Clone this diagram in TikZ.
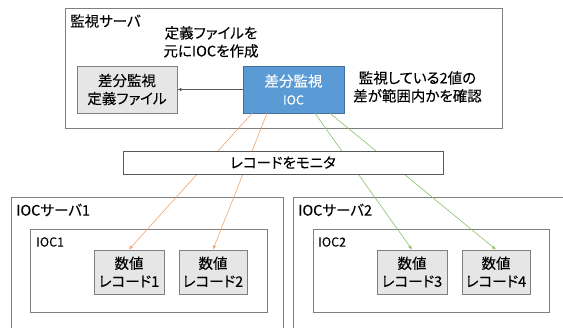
\documentclass[tikz,border=0pt]{standalone}
\usepackage{fontspec}
\setmainfont{Noto Sans CJK JP}[RawFeature=+palt, FakeBold=0.12]
\usetikzlibrary{arrows.meta,calc}
\definecolor{bordergray}{HTML}{7F7F7F}
\definecolor{darkborder}{HTML}{595959}
\definecolor{boxgray}{HTML}{E7E6E6}
\definecolor{iocblue}{HTML}{5B9BD5}
\definecolor{iocblueborder}{HTML}{41719C}
\definecolor{linkorange}{HTML}{F4A56B}
\definecolor{linkgreen}{HTML}{8CC068}
\begin{document}
\begin{tikzpicture}[x=1pt,y=-1pt,
  txt/.style={font=\fontsize{14.5}{18}\selectfont, inner sep=0pt},
  frame/.style={draw=bordergray, line width=0.8pt, fill=white},
  graybox/.style={draw=bordergray, line width=0.8pt, fill=boxgray, align=center,
     font=\fontsize{14.5}{18}\selectfont, inner sep=0pt},
  bluebox/.style={draw=iocblueborder, line width=0.6pt, fill=iocblue, text=white, align=center,
     font=\fontsize{14.5}{18}\selectfont, inner sep=0pt, minimum width=101pt, minimum height=47pt},
  recbox/.style={graybox, minimum height=44pt},
  olink/.style={draw=linkorange, line width=0.6pt, -{Latex[length=4pt,width=3.5pt]}},
  glink/.style={draw=linkgreen, line width=0.6pt, -{Latex[length=4pt,width=3.5pt]}},
]
\useasboundingbox (0,0) rectangle (563,328);
\clip (0,0) rectangle (563,328);
\fill[white] (0,0) rectangle (563,328);

% monitoring server
\draw[frame] (65,8) rectangle (502,128);
\node[txt, anchor=west] (srvlbl) at (70,21) {監視サーバ};
\node[txt, align=center, anchor=north] (note1) at (211,26) {定義ファイルを\\元にIOCを作成};
\node[txt, align=center, anchor=north] (note2) at (417.5,71) {監視している2値の\\差が範囲内かを確認};
\node[graybox, minimum width=100pt, minimum height=47pt] (def) at (127,89.5) {差分監視\\定義ファイル};
\node[bluebox] (ioc) at (293.5,89.5) {差分監視\\{\fontsize{12.5}{18}\selectfont IOC}};
\draw[draw=darkborder, line width=0.6pt, -{Latex[length=4pt,width=3.5pt]}] (ioc.west) -- (def.east);

% IOC servers
\draw[frame] (11,197) rectangle (283,345);
\node[txt, anchor=west] (s1lbl) at (16,210) {IOCサーバ1};
\draw[frame] (30,229) rectangle (267,312);
\node[txt, anchor=west, font=\fontsize{12.5}{14}\selectfont] (i1lbl) at (36,242) {IOC1};
\node[recbox, minimum width=70pt] (r1) at (129,272) {数値\\レコード1};
\node[recbox, minimum width=68pt] (r2) at (213,272) {数値\\レコード2};

\draw[frame] (293,197) rectangle (590,345);
\node[txt, anchor=west] (s2lbl) at (298,210) {IOCサーバ2};
\draw[frame] (313,229) rectangle (549,312);
\node[txt, anchor=west, font=\fontsize{12.5}{14}\selectfont] (i2lbl) at (318,242) {IOC2};
\node[recbox, minimum width=70pt] (r3) at (412,272) {数値\\レコード3};
\node[recbox, minimum width=68pt] (r4) at (496,272) {数値\\レコード4};

% links
\coordinate (o1) at ($(ioc.south)+(-41.5,0)$);
\coordinate (o2) at ($(ioc.south)+(-26.5,0)$);
\coordinate (g1) at ($(ioc.south)+(21.5,0)$);
\coordinate (g2) at ($(ioc.south)+(36.5,0)$);
\draw[olink] (o1) -- (r1.north);
\draw[olink] (o2) -- (r2.north);
\draw[glink] (g1) -- (r3.north);
\draw[glink] (g2) -- (r4.north);

% monitor box on top
\node[draw=darkborder, line width=0.8pt, fill=white, minimum width=320pt, minimum height=23pt,
  font=\fontsize{14.5}{18}\selectfont, inner sep=0pt] (mon) at (283,162.5) {レコードをモニタ};
\end{tikzpicture}
\end{document}
